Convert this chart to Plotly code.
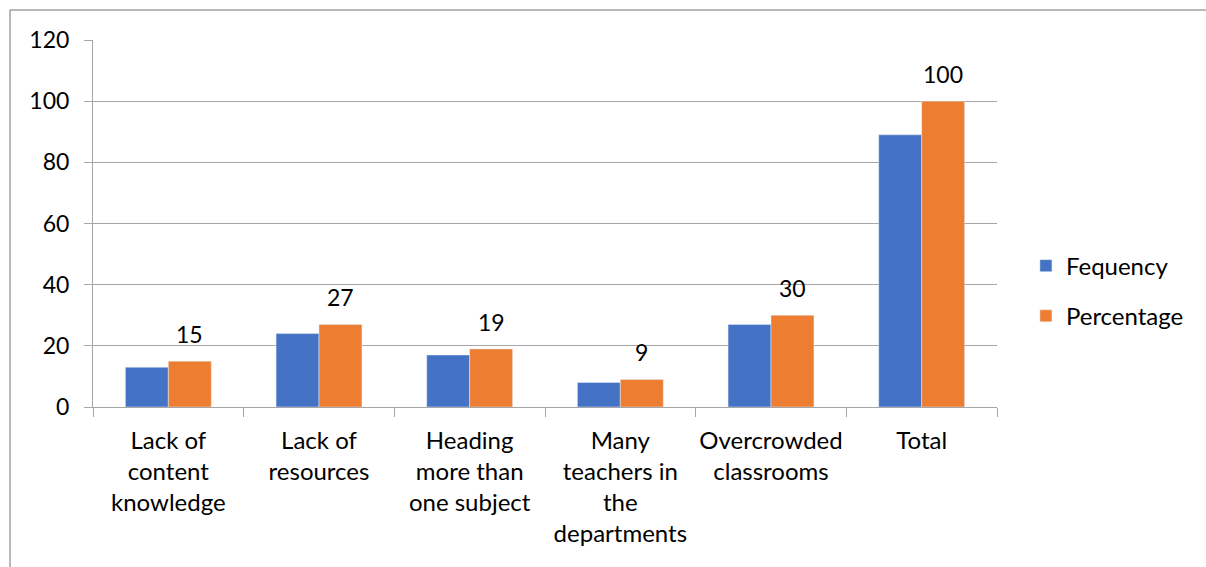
import plotly.graph_objects as go

categories = [
    "Lack of<br>content<br>knowledge",
    "Lack of<br>resources",
    "Heading<br>more than<br>one subject",
    "Many<br>teachers in<br>the<br>departments",
    "Overcrowded<br>classrooms",
    "Total",
]
frequency = [13, 24, 17, 8, 27, 89]
percentage = [15, 27, 19, 9, 30, 100]
y_ticks = [0, 20, 40, 60, 80, 100, 120]

BLUE = "#4472C4"
ORANGE = "#ED7D31"
GRID = "#a6a6a6"
FONT = "Lato"

fig = go.Figure()
fig.add_trace(go.Bar(x=categories, y=frequency, name="Fequency",
                     marker_color=BLUE, legendgroup="f"))
fig.add_trace(go.Bar(x=categories, y=percentage, name="Percentage",
                     marker_color=ORANGE, legendgroup="p"))

# value labels above the percentage bars
for c, v in zip(categories, percentage):
    fig.add_annotation(x=c, y=v, xref="x", yref="y", text=str(v),
                       showarrow=False, xshift=21.5, yshift=11,
                       yanchor="bottom", font=dict(size=23, color="#000000", family=FONT))

# outer chart frame (top and left edges)
fig.add_shape(type="line", xref="paper", yref="paper",
              x0=-0.0918, x1=1.3, y0=1.0817, y1=1.0817,
              line=dict(color="#a0a0a0", width=1.5))
fig.add_shape(type="line", xref="paper", yref="paper",
              x0=-0.0918, x1=-0.0918, y0=1.0817, y1=-0.5,
              line=dict(color="#a0a0a0", width=1.5))

fig.update_layout(
    width=1206, height=567,
    margin=dict(l=93, r=209, t=40, b=160),
    plot_bgcolor="white", paper_bgcolor="white",
    barmode="group", bargap=0.43, bargroupgap=0,
    font=dict(family=FONT, size=23, color="#000000"),
    legend=dict(x=1.032, y=0.316, xanchor="left", yanchor="middle",
                tracegroupgap=16, font=dict(size=24, family=FONT),
                itemwidth=30),
    showlegend=True,
)
fig.update_xaxes(showline=True, linecolor=GRID, linewidth=1,
                 ticks="outside", tickson="boundaries", ticklen=9,
                 tickcolor=GRID, tickangle=0, showgrid=False,
                 ticklabelstandoff=12,
                 tickfont=dict(size=24, family=FONT))
fig.update_yaxes(range=[0, 120], tickvals=y_ticks, showline=True,
                 linecolor=GRID, linewidth=1, ticks="outside", ticklen=8,
                 tickcolor=GRID, gridcolor=GRID, gridwidth=1,
                 ticklabelstandoff=10,
                 zeroline=False, tickfont=dict(size=23, family=FONT))

fig.write_html("out.html")
